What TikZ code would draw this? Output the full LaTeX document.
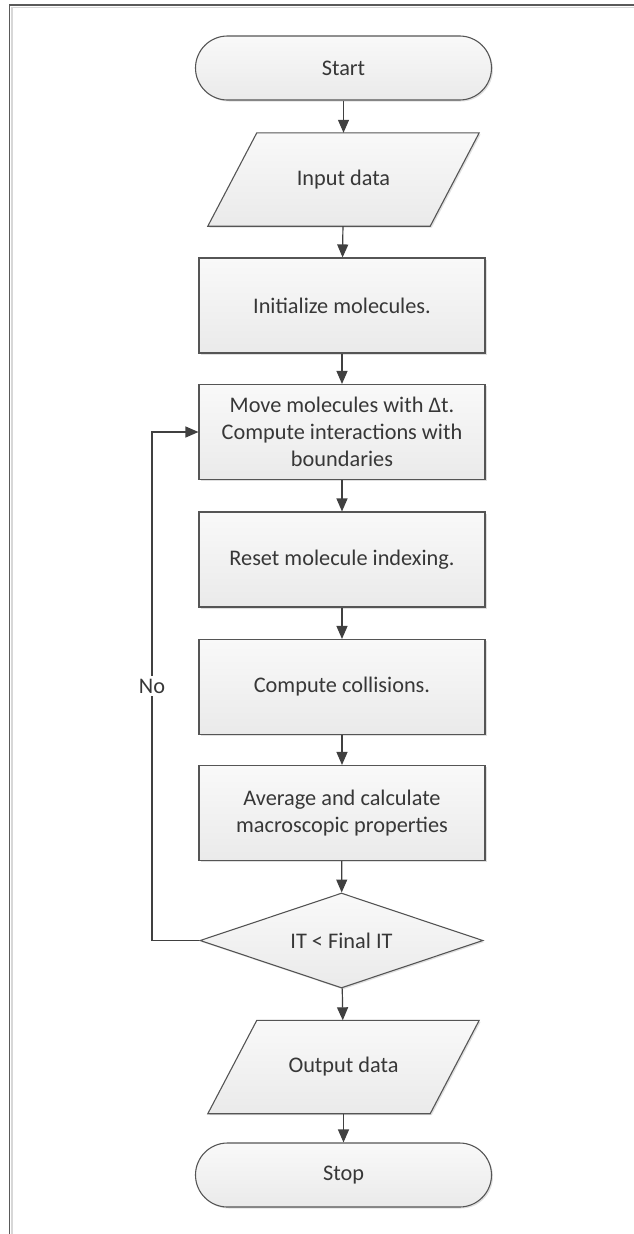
\documentclass[tikz,border=0pt]{standalone}
\usepackage{fontspec}
\setmainfont{Carlito}
\usetikzlibrary{shapes.geometric,arrows.meta,shadows,calc}
\pgfdeclarelayer{bg}
\pgfsetlayers{bg,main}
\definecolor{linec}{RGB}{85,85,85}
\definecolor{arrc}{RGB}{64,64,64}
\definecolor{textc}{RGB}{55,55,55}
\definecolor{fillt}{RGB}{249,249,249}
\definecolor{fillb}{RGB}{234,234,234}
\definecolor{framec}{RGB}{90,90,90}
\definecolor{framel}{RGB}{215,215,215}
\begin{document}
\begin{tikzpicture}[x=1pt,y=-1pt,
  font=\fontsize{22.3}{26.8}\selectfont,
  boxstyle/.style={draw=linec, line width=1.1pt, top color=fillt, bottom color=fillb,
    drop shadow={shadow xshift=1.5pt, shadow yshift=-1.5pt, opacity=0.25},
    text=textc, align=center, inner sep=0pt},
  proc/.style={boxstyle, rectangle, minimum width=286pt, minimum height=95pt},
  term/.style={boxstyle, rectangle, rounded corners=32pt, minimum width=296pt, minimum height=64pt},
  io/.style={text=textc, align=center, inner sep=0pt, minimum width=222pt, minimum height=93pt},
  dec/.style={boxstyle, diamond, aspect=2.98, minimum width=283pt, minimum height=95pt},
  arr/.style={draw=arrc, line width=1.2pt, -{Triangle[width=11pt,length=13pt]}}
]
\useasboundingbox (0,0) rectangle (634,1234);
% frame
\draw[line width=1.5pt, framel] (12,1234) -- (12,7.5) -- (634,7.5);
\draw[line width=1.5pt, framec] (9.5,1234) -- (9.5,5) -- (634,5);

\node[term] (start) at (343.5,68) {Start};
\node[io] (inp) at (343.5,179.5) {Input data};
\node[proc] (init) at (342,305.5) {Initialize molecules.};
\node[proc] (move) at (342,432) {Move molecules with Δt.\\Compute interactions with\\boundaries};
\node[proc] (reset) at (342,559.5) {Reset molecule indexing.};
\node[proc] (coll) at (342,687) {Compute collisions.};
\node[proc] (avg) at (342,813) {Average and calculate\\macroscopic properties};
\node[dec] (cond) at (341.5,940.5) {IT < Final IT};
\node[io] (outp) at (343.5,1067) {Output data};
\node[term] (stop) at (343.5,1175) {Stop};

\begin{pgfonlayer}{bg}
\path[boxstyle] ($(inp.north west)+(24.5,0)$) -- ($(inp.north east)+(24.5,0)$)
   -- ($(inp.south east)+(-24.5,0)$) -- ($(inp.south west)+(-24.5,0)$) -- cycle;
\path[boxstyle] ($(outp.north west)+(24.5,0)$) -- ($(outp.north east)+(24.5,0)$)
   -- ($(outp.south east)+(-24.5,0)$) -- ($(outp.south west)+(-24.5,0)$) -- cycle;
\end{pgfonlayer}

\draw[arr] (start) -- (inp);
\draw[arr] (inp) -- (init);
\draw[arr] (init) -- (move);
\draw[arr] (move) -- (reset);
\draw[arr] (reset) -- (coll);
\draw[arr] (coll) -- (avg);
\draw[arr] (avg) -- (cond);
\draw[arr] (cond) -- (outp);
\draw[arr] (outp) -- (stop);

\coordinate (loopx) at (152,0);
\draw[arr] (cond.west) -- (cond.west -| loopx)
  -- node[fill=white, text=textc, inner sep=3pt] (no) {No} (move.west -| loopx)
  -- (move.west);
\end{tikzpicture}
\end{document}
